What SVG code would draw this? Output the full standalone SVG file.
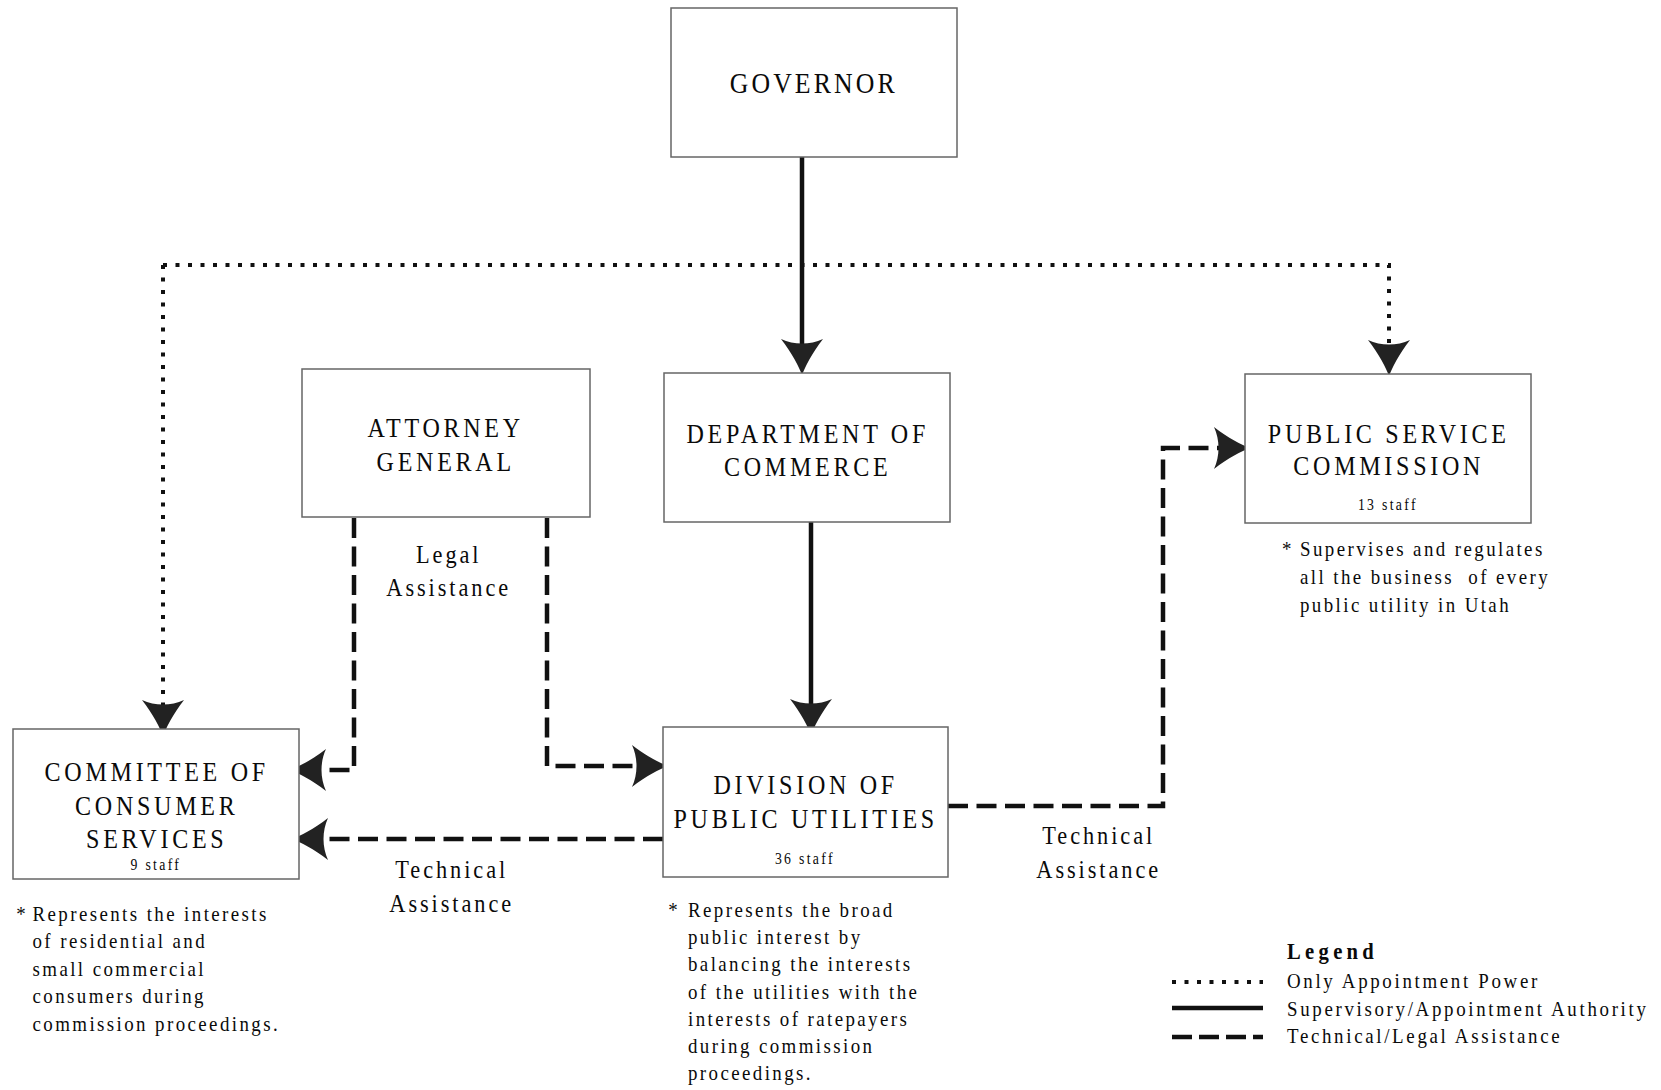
<svg xmlns="http://www.w3.org/2000/svg" xmlns:xlink="http://www.w3.org/1999/xlink" width="1661" height="1090" viewBox="0 0 1661 1090">
<style>
text{font-family:"Liberation Serif","Times New Roman",serif;fill:#0a0a0a;}
.box{fill:#fff;stroke:#666;stroke-width:1.5;}
.t{font-size:28px;letter-spacing:4.3px;text-anchor:middle;}
.g{font-size:30px;letter-spacing:3.6px;text-anchor:middle;}
.s{font-size:16px;letter-spacing:2.7px;text-anchor:middle;}
.l{font-size:26px;letter-spacing:3.4px;text-anchor:middle;}
.n{font-size:22px;letter-spacing:2.8px;}
.lt{font-size:22px;letter-spacing:3.1px;}
.lh{font-size:24px;font-weight:bold;letter-spacing:5px;}
.solid{fill:none;stroke:#111;stroke-width:4.5;}
.dash{fill:none;stroke:#111;stroke-width:4.5;stroke-dasharray:20 8.5;}
.dot{fill:none;stroke:#111;stroke-width:4;stroke-dasharray:4 8.5;}
.ah{fill:#222;}
</style>
<defs>
<path id="ah" class="ah" d="M0,0 C-8,-3 -22,-10 -36,-21 C-30,-8 -30,8 -36,21 C-22,10 -8,3 0,0 Z"/>
</defs>
<rect width="1661" height="1090" fill="#fff"/>

<g id="connectors">
<path class="solid" d="M802,157 V355"/>
<use xlink:href="#ah" transform="translate(802,375) rotate(90)"/>
<path class="solid" d="M811,522 V715"/>
<use xlink:href="#ah" transform="translate(811,735) rotate(90)"/>
<path class="dot" d="M163,265 V716"/>
<path class="dot" d="M163,265 H1389 V356"/>
<use xlink:href="#ah" transform="translate(163,736) rotate(90)"/>
<use xlink:href="#ah" transform="translate(1389,376) rotate(90)"/>
<path class="dash" d="M354,518 V770 H310"/>
<use xlink:href="#ah" transform="translate(290,770) rotate(180)"/>
<path class="dash" d="M547,518 V766 H648"/>
<use xlink:href="#ah" transform="translate(668,766)"/>
<path class="dash" d="M663,839 H312"/>
<use xlink:href="#ah" transform="translate(292,839) rotate(180)"/>
<path class="dash" d="M948,806 H1163 V448 H1230"/>
<use xlink:href="#ah" transform="translate(1250,448)"/>
</g>

<g id="governor">
<rect class="box" x="671" y="8" width="286" height="149"/>
<text class="g" transform="translate(812 0) scale(.86 1)" x="2" y="93">GOVERNOR</text>
</g>

<g id="attorney-general">
<rect class="box" x="302" y="369" width="288" height="148"/>
<text class="t" transform="translate(444 0) scale(.86 1)"><tspan x="2" y="437">ATTORNEY</tspan><tspan x="2" y="471">GENERAL</tspan></text>
</g>

<g id="department-of-commerce">
<rect class="box" x="664" y="373" width="286" height="149"/>
<text class="t" transform="translate(806 0) scale(.86 1)"><tspan x="2" y="443">DEPARTMENT OF</tspan><tspan x="2" y="476">COMMERCE</tspan></text>
</g>

<g id="public-service-commission">
<rect class="box" x="1245" y="374" width="286" height="149"/>
<text class="t" transform="translate(1387 0) scale(.86 1)"><tspan x="2" y="443">PUBLIC SERVICE</tspan><tspan x="2" y="475">COMMISSION</tspan></text>
<text class="s" transform="translate(1387 0) scale(.86 1)" x="1" y="510">13 staff</text>
</g>

<g id="committee-of-consumer-services">
<rect class="box" x="13" y="729" width="286" height="150"/>
<text class="t" transform="translate(155 0) scale(.86 1)"><tspan x="2" y="781">COMMITTEE OF</tspan><tspan x="2" y="815">CONSUMER</tspan><tspan x="2" y="848">SERVICES</tspan></text>
<text class="s" transform="translate(155 0) scale(.86 1)" x="1" y="870">9 staff</text>
</g>

<g id="division-of-public-utilities">
<rect class="box" x="663" y="727" width="285" height="150"/>
<text class="t" transform="translate(804 0) scale(.86 1)"><tspan x="2" y="794">DIVISION OF</tspan><tspan x="2" y="828">PUBLIC UTILITIES</tspan></text>
<text class="s" transform="translate(804 0) scale(.86 1)" x="1" y="864">36 staff</text>
</g>

<g id="labels">
<text class="l" transform="translate(447 0) scale(.86 1)"><tspan x="2" y="563">Legal</tspan><tspan x="2" y="596">Assistance</tspan></text>
<text class="l" transform="translate(450 0) scale(.86 1)"><tspan x="2" y="878">Technical</tspan><tspan x="2" y="912">Assistance</tspan></text>
<text class="l" transform="translate(1097 0) scale(.86 1)"><tspan x="2" y="844">Technical</tspan><tspan x="2" y="878">Assistance</tspan></text>
</g>

<g id="notes">
<text class="n" transform="translate(1300 0) scale(.86 1)"><tspan x="-21" y="556">*</tspan><tspan x="0" y="556">Supervises and regulates</tspan><tspan x="0" y="584">all the business&#160; of every</tspan><tspan x="0" y="612">public utility in Utah</tspan></text>
<text class="n" transform="translate(32.5 0) scale(.86 1)"><tspan x="-19" y="921">*</tspan><tspan x="0" y="921">Represents the interests</tspan><tspan x="0" y="948.5">of residential and</tspan><tspan x="0" y="976">small commercial</tspan><tspan x="0" y="1003.5">consumers during</tspan><tspan x="0" y="1031">commission proceedings.</tspan></text>
<text class="n" transform="translate(688 0) scale(.86 1)"><tspan x="-23" y="917">*</tspan><tspan x="0" y="917">Represents the broad</tspan><tspan x="0" y="944">public interest by</tspan><tspan x="0" y="971">balancing the interests</tspan><tspan x="0" y="999">of the utilities with the</tspan><tspan x="0" y="1026">interests of ratepayers</tspan><tspan x="0" y="1053">during commission</tspan><tspan x="0" y="1080">proceedings.</tspan></text>
</g>

<g id="legend">
<text class="lh" transform="translate(1287 0) scale(.86 1)" x="0" y="959">Legend</text>
<path class="dot" d="M1172,982 H1263"/>
<path class="solid" d="M1172,1008 H1263"/>
<path class="dash" d="M1172,1037 H1263" style="stroke-dasharray:20 7"/>
<text class="lt" transform="translate(1287 0) scale(.86 1)"><tspan x="0" y="988">Only Appointment Power</tspan><tspan x="0" y="1016">Supervisory/Appointment Authority</tspan><tspan x="0" y="1043">Technical/Legal Assistance</tspan></text>
</g>
</svg>
